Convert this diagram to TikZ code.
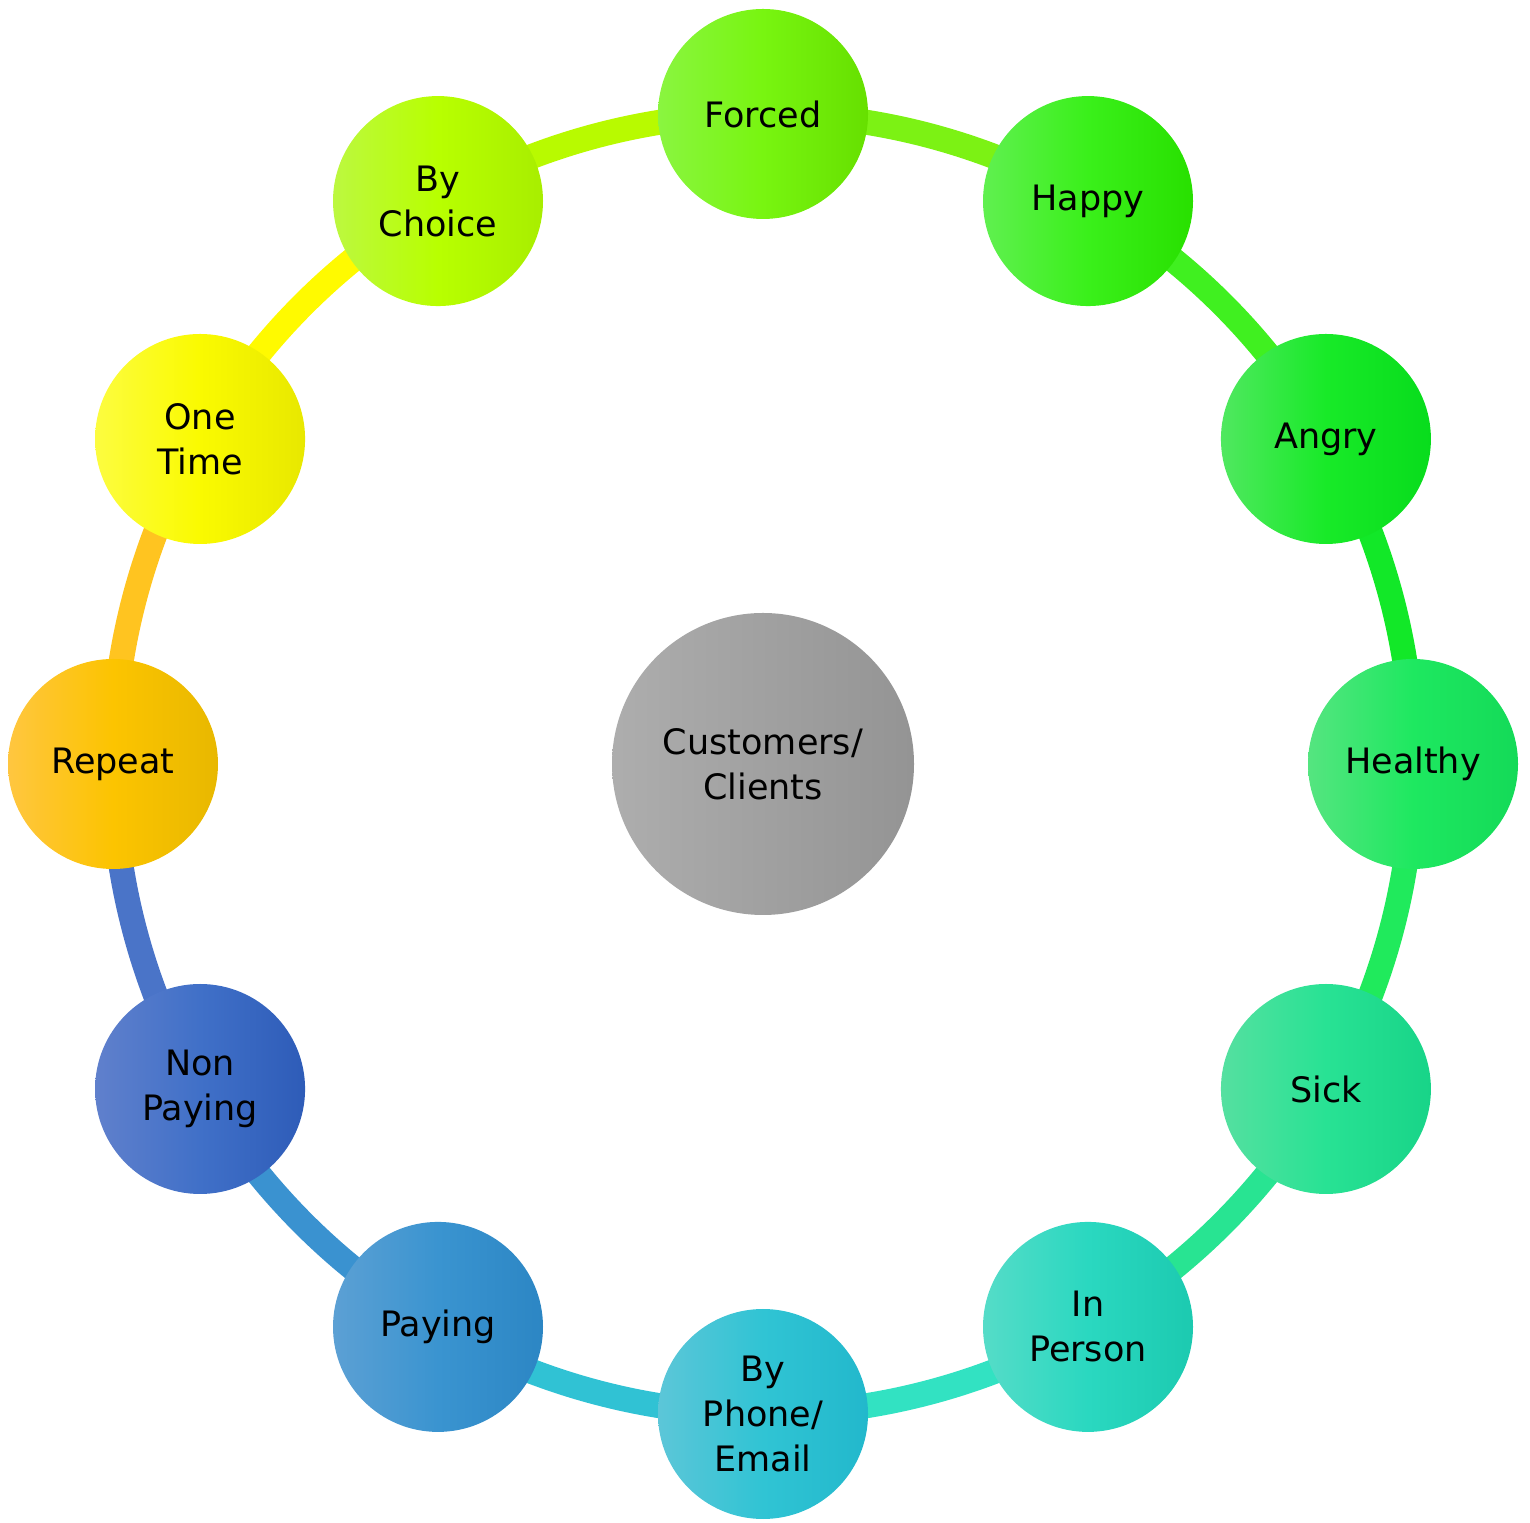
\documentclass[tikz,border=0pt]{standalone}
\usepackage{fontspec}
\setmainfont{DejaVu Sans}
\definecolor{cFa}{HTML}{8AF540}\definecolor{cFb}{HTML}{78F510}\definecolor{cFc}{HTML}{66E000}
\definecolor{cHa}{HTML}{60F050}\definecolor{cHb}{HTML}{3AF01A}\definecolor{cHc}{HTML}{28E000}
\definecolor{cAa}{HTML}{50E860}\definecolor{cAb}{HTML}{18EA28}\definecolor{cAc}{HTML}{08DC1C}
\definecolor{cLa}{HTML}{55E580}\definecolor{cLb}{HTML}{1EE860}\definecolor{cLc}{HTML}{14DA58}
\definecolor{cSa}{HTML}{55E0A0}\definecolor{cSb}{HTML}{28E294}\definecolor{cSc}{HTML}{18D488}
\definecolor{cIa}{HTML}{55DCC8}\definecolor{cIb}{HTML}{2AD8C0}\definecolor{cIc}{HTML}{1CCAB0}
\definecolor{cBa}{HTML}{5CC6D8}\definecolor{cBb}{HTML}{30C4D4}\definecolor{cBc}{HTML}{22B8CC}
\definecolor{cPa}{HTML}{5CA0D4}\definecolor{cPb}{HTML}{3A94D0}\definecolor{cPc}{HTML}{2C86C4}
\definecolor{cNa}{HTML}{6080CC}\definecolor{cNb}{HTML}{4070C8}\definecolor{cNc}{HTML}{2E5CB8}
\definecolor{cRa}{HTML}{FFC640}\definecolor{cRb}{HTML}{FCC400}\definecolor{cRc}{HTML}{E8B800}
\definecolor{cOa}{HTML}{FCFC40}\definecolor{cOb}{HTML}{FAFA00}\definecolor{cOc}{HTML}{E8E800}
\definecolor{cCa}{HTML}{BCF840}\definecolor{cCb}{HTML}{B8FF00}\definecolor{cCc}{HTML}{A8EE00}
\definecolor{aF}{HTML}{7CF214}\definecolor{aH}{HTML}{40F020}\definecolor{aA}{HTML}{12E828}
\definecolor{aL}{HTML}{20EA5C}\definecolor{aS}{HTML}{28E492}\definecolor{aI}{HTML}{32E2C2}
\definecolor{aB}{HTML}{30C2D4}\definecolor{aP}{HTML}{3A92D0}\definecolor{aN}{HTML}{4A74C8}
\definecolor{aR}{HTML}{FFC420}\definecolor{aO}{HTML}{FFFA00}\definecolor{aC}{HTML}{B8FA00}
\tikzset{
  bubble/.style n args={3}{circle, minimum size=210pt, inner sep=0pt, align=center,
    left color=#1, right color=#3, middle color=#2, font=\fontsize{35}{45}\selectfont},
  hub/.style={circle, minimum size=302pt, inner sep=0pt, align=center,
    left color=black!32, right color=black!42, middle color=black!37,
    font=\fontsize{35}{45}\selectfont},
  ring/.style={line width=25pt, draw=#1}
}
\begin{document}
\begin{tikzpicture}[x=1pt,y=1pt]
\useasboundingbox (0,0) rectangle (1530,1522);
\coordinate (O) at (763,758);
% arcs first (behind nodes)
\path (O) ++(90:650pt) coordinate (p0) (O) ++(60:650pt) coordinate (p1)
      (O) ++(30:650pt) coordinate (p2) (O) ++(0:650pt) coordinate (p3)
      (O) ++(-30:650pt) coordinate (p4) (O) ++(-60:650pt) coordinate (p5)
      (O) ++(-90:650pt) coordinate (p6) (O) ++(-120:650pt) coordinate (p7)
      (O) ++(-150:650pt) coordinate (p8) (O) ++(180:650pt) coordinate (p9)
      (O) ++(150:650pt) coordinate (p10) (O) ++(120:650pt) coordinate (p11);
\draw[ring=aF] (p0) arc[start angle=90, end angle=60, radius=650pt];
\draw[ring=aH] (p1) arc[start angle=60, end angle=30, radius=650pt];
\draw[ring=aA] (p2) arc[start angle=30, end angle=0, radius=650pt];
\draw[ring=aL] (p3) arc[start angle=0, end angle=-30, radius=650pt];
\draw[ring=aS] (p4) arc[start angle=-30, end angle=-60, radius=650pt];
\draw[ring=aI] (p5) arc[start angle=-60, end angle=-90, radius=650pt];
\draw[ring=aB] (p6) arc[start angle=-90, end angle=-120, radius=650pt];
\draw[ring=aP] (p7) arc[start angle=-120, end angle=-150, radius=650pt];
\draw[ring=aN] (p8) arc[start angle=-150, end angle=-180, radius=650pt];
\draw[ring=aR] (p9) arc[start angle=180, end angle=150, radius=650pt];
\draw[ring=aO] (p10) arc[start angle=150, end angle=120, radius=650pt];
\draw[ring=aC] (p11) arc[start angle=120, end angle=90, radius=650pt];
% nodes
\node[hub] (hub) at (O) {Customers/\\Clients};
\node[bubble={cFa}{cFb}{cFc}] (forced) at (p0) {Forced};
\node[bubble={cHa}{cHb}{cHc}] (happy) at (p1) {Happy};
\node[bubble={cAa}{cAb}{cAc}] (angry) at (p2) {Angry};
\node[bubble={cLa}{cLb}{cLc}] (healthy) at (p3) {Healthy};
\node[bubble={cSa}{cSb}{cSc}] (sick) at (p4) {Sick};
\node[bubble={cIa}{cIb}{cIc}] (inperson) at (p5) {In\\Person};
\node[bubble={cBa}{cBb}{cBc}] (byphone) at (p6) {By\\Phone/\\Email};
\node[bubble={cPa}{cPb}{cPc}] (paying) at (p7) {Paying};
\node[bubble={cNa}{cNb}{cNc}] (nonpaying) at (p8) {Non\\Paying};
\node[bubble={cRa}{cRb}{cRc}] (repeat) at (p9) {Repeat};
\node[bubble={cOa}{cOb}{cOc}] (onetime) at (p10) {One\\Time};
\node[bubble={cCa}{cCb}{cCc}] (bychoice) at (p11) {By\\Choice};
\end{tikzpicture}
\end{document}
